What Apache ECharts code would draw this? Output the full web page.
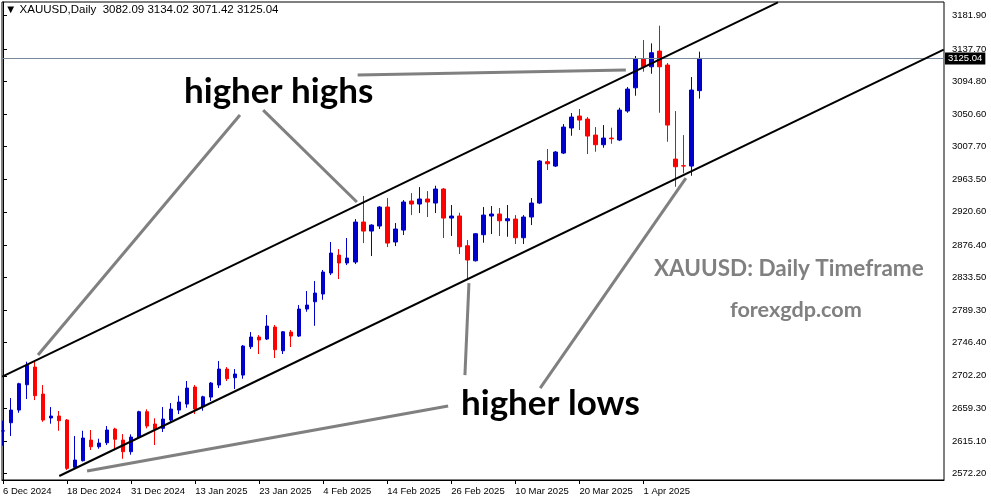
<!DOCTYPE html>
<html>
<head>
<meta charset="utf-8">
<script src="https://cdn.jsdelivr.net/npm/echarts@6/dist/echarts.min.js"></script>
<style>
html,body{margin:0;padding:0;background:#fff;}
#chart{width:991px;height:501px;}
</style>
</head>
<body>
<div id="chart"></div>
<script>
// ---- data ----
const symbolTitle = 'XAUUSD,Daily';
const dates = [
 '6 Dec 2024','9 Dec 2024','10 Dec 2024','11 Dec 2024','12 Dec 2024','13 Dec 2024','16 Dec 2024','17 Dec 2024',
 '18 Dec 2024','19 Dec 2024','20 Dec 2024','23 Dec 2024','24 Dec 2024','26 Dec 2024','27 Dec 2024','30 Dec 2024',
 '31 Dec 2024','2 Jan 2025','3 Jan 2025','6 Jan 2025','7 Jan 2025','8 Jan 2025','9 Jan 2025','10 Jan 2025',
 '13 Jan 2025','14 Jan 2025','15 Jan 2025','16 Jan 2025','17 Jan 2025','20 Jan 2025','21 Jan 2025','22 Jan 2025',
 '23 Jan 2025','24 Jan 2025','27 Jan 2025','28 Jan 2025','29 Jan 2025','30 Jan 2025','31 Jan 2025','3 Feb 2025',
 '4 Feb 2025','5 Feb 2025','6 Feb 2025','7 Feb 2025','10 Feb 2025','11 Feb 2025','12 Feb 2025','13 Feb 2025',
 '14 Feb 2025','17 Feb 2025','18 Feb 2025','19 Feb 2025','20 Feb 2025','21 Feb 2025','24 Feb 2025','25 Feb 2025',
 '26 Feb 2025','27 Feb 2025','28 Feb 2025','3 Mar 2025','4 Mar 2025','5 Mar 2025','6 Mar 2025','7 Mar 2025',
 '10 Mar 2025','11 Mar 2025','12 Mar 2025','13 Mar 2025','14 Mar 2025','17 Mar 2025','18 Mar 2025','19 Mar 2025',
 '20 Mar 2025','21 Mar 2025','24 Mar 2025','25 Mar 2025','26 Mar 2025','27 Mar 2025','28 Mar 2025','31 Mar 2025',
 '1 Apr 2025','2 Apr 2025','3 Apr 2025','4 Apr 2025','7 Apr 2025','8 Apr 2025','9 Apr 2025','10 Apr 2025'
];
const opens = [
 2628.5,2639.6,2656.5,2690.2,2713.8,2677.8,2645.9,2648.5,2643.2,2580.2,2589.0,2616.5,2607.6,2612.9,2631.2,2616.5,
 2601.0,2620.1,2654.3,2637.9,2632.1,2643.2,2656.5,2664.5,2687.2,2660.9,2673.8,2689.8,2711.1,2699.6,2703.1,2740.9,
 2753.8,2751.1,2767.1,2735.5,2760.4,2755.1,2791.1,2800.8,2811.1,2839.1,2863.0,2852.4,2853.7,2907.0,2895.0,2901.7,
 2927.0,2880.4,2896.3,2935.0,2931.0,2937.7,2932.3,2951.0,2912.3,2915.0,2875.4,2855.4,2890.1,2915.0,2917.7,2908.7,
 2911.0,2886.1,2913.7,2932.3,2987.4,2981.6,2998.9,3032.3,3048.2,3044.2,3022.9,3010.0,3018.9,3016.3,3054.9,3085.9,
 3124.2,3113.9,3134.8,3116.2,2990.9,2982.0,2981.6,3082.09
];
const highs = [
 2642.3,2672.5,2692.9,2720.9,2723.1,2689.8,2660.5,2655.2,2644.5,2621.9,2628.9,2629.9,2618.3,2635.2,2632.9,2624.5,
 2624.1,2655.6,2657.5,2645.5,2660.5,2665.8,2675.6,2695.2,2689.8,2675.6,2693.8,2721.8,2713.8,2711.1,2743.1,2760.4,
 2756.4,2783.1,2769.8,2761.8,2763.1,2796.4,2815.1,2828.4,2843.1,2880.4,2871.0,2885.7,2911.0,2941.7,2904.0,2928.3,
 2939.0,2905.7,2936.3,2945.6,2953.6,2948.3,2955.4,2952.3,2929.7,2919.4,2883.0,2892.4,2927.0,2928.3,2925.7,2929.7,
 2916.3,2916.3,2939.0,2989.5,3004.3,3001.6,3037.6,3052.2,3057.6,3046.9,3033.6,3036.2,3032.7,3059.3,3086.9,3128.2,
 3149.5,3145.1,3168.6,3118.9,3054.9,3022.9,3100.2,3134.02
];
const lows = [
 2609.0,2621.9,2652.9,2671.2,2669.8,2640.9,2638.3,2628.9,2576.6,2578.0,2588.0,2603.2,2605.0,2609.9,2604.2,2591.6,
 2597.0,2619.5,2632.1,2609.9,2627.2,2640.1,2651.2,2659.6,2651.2,2655.6,2668.5,2685.8,2695.2,2684.5,2698.2,2737.8,
 2731.1,2749.8,2725.8,2731.1,2740.5,2753.8,2787.5,2768.8,2803.5,2836.4,2831.1,2849.7,2851.0,2879.0,2861.7,2897.7,
 2873.7,2875.0,2889.7,2916.3,2919.0,2913.7,2919.0,2885.7,2888.4,2864.4,2829.7,2854.4,2879.4,2891.0,2888.4,2887.4,
 2877.7,2877.7,2903.0,2931.0,2976.3,2980.3,2997.6,3022.0,3029.6,2997.6,3000.7,3006.0,3011.3,3014.9,3052.6,3075.3,
 3107.3,3104.6,3052.6,3014.0,2954.0,2971.9,2968.7,3071.42
];
const closes = [
 2628.8,2656.5,2691.6,2716.1,2675.6,2643.2,2648.5,2642.3,2578.8,2589.9,2619.2,2607.6,2612.5,2629.9,2617.5,2601.0,
 2620.5,2654.3,2635.2,2630.8,2644.5,2657.8,2667.2,2685.8,2657.8,2674.2,2692.5,2711.1,2698.2,2704.5,2741.8,2753.8,
 2749.8,2768.4,2736.9,2760.8,2755.1,2791.1,2796.4,2812.4,2840.4,2865.7,2852.4,2859.0,2907.0,2895.0,2903.0,2927.0,
 2879.0,2897.7,2933.7,2931.0,2937.7,2933.7,2951.0,2912.3,2915.0,2874.1,2856.4,2891.4,2916.3,2917.7,2908.7,2911.4,
 2886.1,2913.7,2932.3,2988.3,2984.7,3000.3,3033.6,3046.9,3042.9,3021.6,3010.0,3018.9,3018.0,3056.2,3084.2,3124.2,
 3113.9,3132.6,3113.9,3036.2,2980.7,2981.6,3082.9,3125.04
];
const priceTicks = [3181.90,3137.70,3094.80,3050.60,3007.70,2963.50,2920.60,2876.40,2833.50,2789.30,2746.40,2702.20,2659.30,2615.10,2572.20];
const dateTickIndex = [0,8,16,24,32,40,48,56,64,72,80];
// trend lines: [barIndex, price] pairs
const channelUpper = [[-0.1, 2701.0], [96.8, 3199.6]];
const channelLower = [[7.03, 2568.6], [117.5, 3136.7]];
const pointerLines = [
 [[29.6, 3049.6], [4.37, 2729.8]],
 [[32.5, 3056.2], [44.2, 2933.7]],
 [[44.3, 3102.9], [77.8, 3109.5]],
 [[55.6, 2661.8], [10.5, 2575.2]],
 [[57.7, 2703.1], [58.2, 2825.7]],
 [[67.1, 2685.8], [85.3, 2965.6]]
];

// ---- build ----
const candles = dates.map((d, i) => [i, opens[i], closes[i], lows[i], highs[i]]);
const last = dates.length - 1;
const fmt = v => v.toFixed(2);
const lineItem = (seg, color, width) => [
  {coord: seg[0], lineStyle: {color: color, width: width, type: 'solid'}},
  {coord: seg[1]}
];
const annFont = 'Lato, "Open Sans", sans-serif';
const axisFont = 'Liberation Sans, Arial, sans-serif';

const chart = echarts.init(document.getElementById('chart'), null, {renderer: 'canvas'});
chart.setOption({
  animation: false,
  backgroundColor: '#ffffff',
  grid: {left: 2, top: 2, right: 47, bottom: 21, show: true, borderColor: '#000', borderWidth: 1, backgroundColor: 'transparent'},
  xAxis: {
    type: 'value', min: -0.125, max: 117.54,
    splitLine: {show: false},
    axisLine: {show: true, lineStyle: {color: '#000', width: 1}},
    axisTick: {show: true, length: 4, inside: false, lineStyle: {color: '#000'}, customValues: dateTickIndex},
    axisLabel: {
      customValues: dateTickIndex, align: 'left', margin: 6,
      fontFamily: axisFont, fontSize: 9.5, color: '#000',
      formatter: v => dates[Math.round(v)] || ''
    }
  },
  yAxis: {
    type: 'value', position: 'right', min: 2563.3, max: 3200.2, scale: true,
    splitLine: {show: false},
    axisLine: {show: true, lineStyle: {color: '#000', width: 1}},
    axisTick: {show: true, length: 4, lineStyle: {color: '#000'}, customValues: priceTicks},
    axisLabel: {
      customValues: priceTicks, margin: 8,
      fontFamily: axisFont, fontSize: 9.5, color: '#000',
      formatter: v => fmt(v)
    }
  },
  series: [{
    type: 'candlestick',
    data: candles,
    encode: {x: 0, y: [1, 2, 3, 4]},
    barWidth: 4,
    itemStyle: {color: '#0000cc', color0: '#ff0000', borderColor: '#0000cc', borderColor0: '#ff0000', borderWidth: 1},
    markLine: {
      silent: true, symbol: ['none', 'none'], animation: false,
      label: {show: false},
      data: [
        {yAxis: closes[last], lineStyle: {color: '#778899', width: 1, type: 'solid'},
         label: {show: true, position: 'end', distance: 1, formatter: fmt(closes[last]),
                 backgroundColor: '#000', color: '#fff', padding: [1, 3, 1, 3],
                 fontFamily: axisFont, fontSize: 9.5}},
        lineItem(channelUpper, '#000', 2),
        lineItem(channelLower, '#000', 2),
        ...pointerLines.map(s => lineItem(s, '#808080', 3))
      ]
    }
  }],
  graphic: [
    {type: 'text', left: 5, top: 4, style: {text: '\u25BC ' + symbolTitle + '  ' + [opens[last], highs[last], lows[last], closes[last]].map(fmt).join(' '),
      fontFamily: axisFont, fontSize: 11.5, fill: '#000'}},
    {type: 'text', left: 184, top: 74, style: {text: 'higher highs', fontFamily: annFont, fontWeight: 'bold', fontSize: 35, fill: '#000'}},
    {type: 'text', left: 461, top: 386, style: {text: 'higher lows', fontFamily: annFont, fontWeight: 'bold', fontSize: 35, fill: '#000'}},
    {type: 'text', left: 654, top: 257, style: {text: 'XAUUSD: Daily Timeframe', fontFamily: annFont, fontWeight: 'bold', fontSize: 22.5, fill: '#808080'}},
    {type: 'text', left: 730, top: 299, style: {text: 'forexgdp.com', fontFamily: annFont, fontWeight: 'bold', fontSize: 21.6, fill: '#808080'}}
  ]
});
</script>
</body>
</html>
